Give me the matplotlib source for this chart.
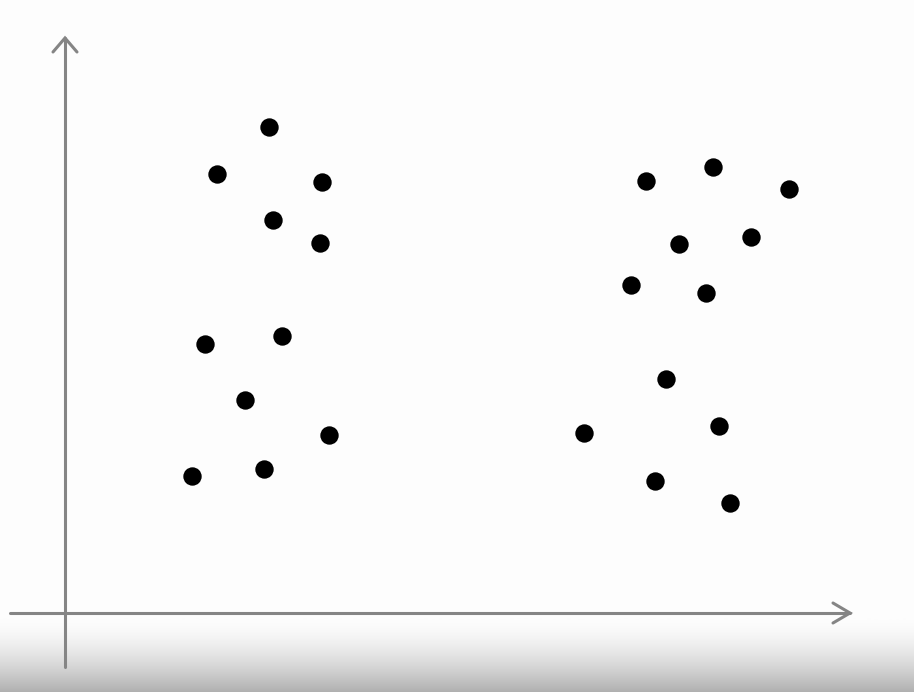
import numpy as np
import matplotlib
matplotlib.use("Agg")
import matplotlib.pyplot as plt
from matplotlib.colors import LinearSegmentedColormap

left_x = [204, 152, 257, 208, 255, 140, 217, 180, 264, 127, 199]
left_y = [486, 439, 431, 393, 370, 269, 277, 213, 178, 137, 144]
right_x = [648, 581, 724, 614, 686, 566, 641, 601, 519, 654, 590, 665]
right_y = [446, 432, 424, 369, 376, 328, 320, 234, 180, 187, 132, 110]

fig = plt.figure(figsize=(9.14, 6.92), dpi=100)
ax = fig.add_axes([0, 0, 1, 1])
ax.axis("off")

# bottom shadow gradient (dark at bottom, white at top)
grad = (np.linspace(1, 0, 200) ** 1.6).reshape(-1, 1)
cmap = LinearSegmentedColormap.from_list("g", ["#fdfdfd", "#b0b0b0"])
ax.imshow(grad, extent=[-65, 849, -79, -5], aspect="auto", cmap=cmap,
          origin="lower", zorder=0, interpolation="bilinear")
ax.set_xlim(-65, 849)
ax.set_ylim(-79, 613)

ac = "#858585"
lw = 2.2
# axes lines
ax.plot([0, 0], [-54, 575], color=ac, lw=lw, solid_capstyle="round", zorder=1)
ax.plot([-55, 785], [0, 0], color=ac, lw=lw, solid_capstyle="round", zorder=1)
# arrowheads
ax.plot([-12, 0, 12], [561, 575, 561], color=ac, lw=lw, solid_capstyle="round",
        solid_joinstyle="miter", zorder=1)
ax.plot([768, 785, 768], [10, 0, -10], color=ac, lw=lw, solid_capstyle="round",
        solid_joinstyle="miter", zorder=1)

ax.scatter(left_x, left_y, s=175, color="black", zorder=3, linewidths=0)
ax.scatter(right_x, right_y, s=175, color="black", zorder=3, linewidths=0)

fig.savefig("out.png", dpi=100, facecolor="#fdfdfd")
